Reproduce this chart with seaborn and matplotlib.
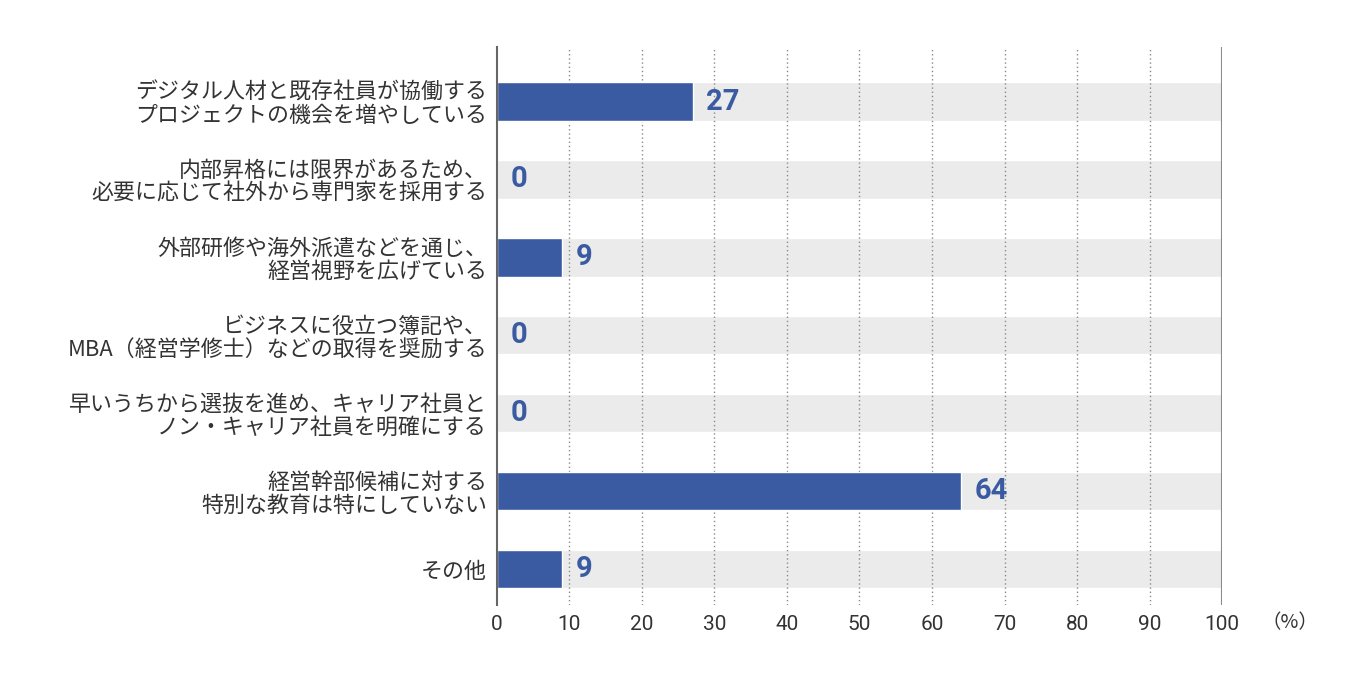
import matplotlib
matplotlib.use("Agg")
import matplotlib.pyplot as plt
import pandas as pd
import seaborn as sns

# Survey answers (%), top to bottom
categories = [
    "デジタル人材と既存社員が協働する\nプロジェクトの機会を増やしている",
    "内部昇格には限界があるため、\n必要に応じて社外から専門家を採用する",
    "外部研修や海外派遣などを通じ、\n経営視野を広げている",
    "ビジネスに役立つ簿記や、\nMBA（経営学修士）などの取得を奨励する",
    "早いうちから選抜を進め、キャリア社員と\nノン・キャリア社員を明確にする",
    "経営幹部候補に対する\n特別な教育は特にしていない",
    "その他",
]
values = [27, 0, 9, 0, 0, 64, 9]
full_scale = [100] * len(categories)
x_ticks = [0, 10, 20, 30, 40, 50, 60, 70, 80, 90, 100]

BLUE = "#3a5ba2"
TRACK = "#ebebeb"
TEXT = "#333333"


def main():
    sns.set_theme(style="white")
    plt.rcParams["font.family"] = ["Noto Sans CJK JP", "DejaVu Sans"]

    df = pd.DataFrame({"item": categories, "value": values, "track": full_scale})

    fig = plt.figure(figsize=(13.46, 6.85), dpi=100)
    ax = fig.add_axes([0.3692, 0.1168, 0.5387, 0.8146])

    # grey tracks behind, then the real values
    sns.barplot(data=df, x="track", y="item", color=TRACK, width=0.49,
                saturation=1, orient="h", ax=ax, zorder=1)
    sns.barplot(data=df, x="value", y="item", color=BLUE, width=0.49,
                saturation=1, orient="h", ax=ax, zorder=3)

    for i, v in enumerate(values):
        ax.text(v + 1.9, i, str(v), ha="left", va="center", color=BLUE,
                fontsize=21, fontweight="bold", family=["Roboto", "DejaVu Sans"],
                zorder=4)

    ax.set_xlim(0, 100)
    ax.set_ylim(len(categories) - 1 + 0.46, -0.7)
    ax.set_xticks(x_ticks)
    ax.set_xticklabels([str(t) for t in x_ticks], family=["Roboto", "DejaVu Sans"],
                       fontsize=15, color=TEXT)
    ax.tick_params(axis="x", length=0, pad=7)
    ax.tick_params(axis="y", length=0, pad=7, labelsize=15.8, labelcolor=TEXT)
    for lab in ax.get_yticklabels():
        lab.set_linespacing(1.05)
    ax.set_xlabel("")
    ax.set_ylabel("")

    # dotted gridlines between the tracks and the blue bars
    for t in x_ticks[1:-1]:
        ax.axvline(t, color="#8a8a8a", linestyle=(0, (1, 2)), linewidth=1, zorder=2)

    for side in ["top", "bottom", "right"]:
        ax.spines[side].set_visible(False)
    ax.spines["left"].set_color("#666666")
    ax.spines["left"].set_linewidth(1.5)
    ax.spines["left"].set_zorder(5)
    ax.axvline(100, color="#8a8a8a", linewidth=1.5, zorder=5)

    ax.text(1.094, -0.031, "（%）", transform=ax.transAxes, ha="center", va="center",
            fontsize=14, color=TEXT)

    fig.savefig("out.png", dpi=100)
    plt.close(fig)


if __name__ == "__main__":
    main()
